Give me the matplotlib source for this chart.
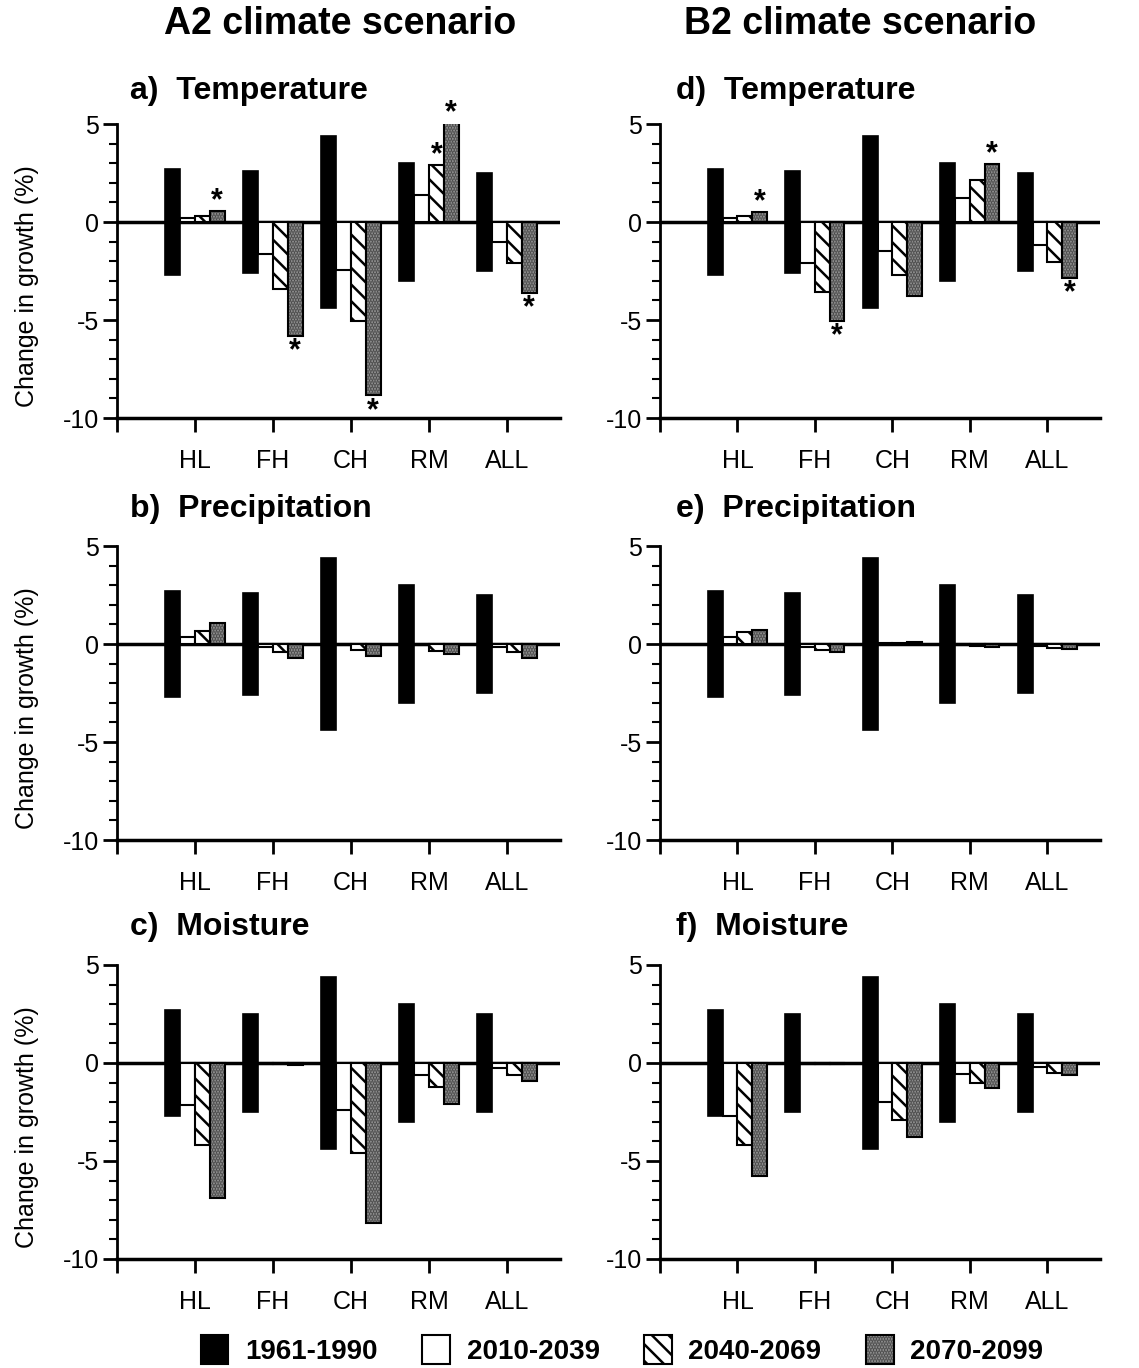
import matplotlib
matplotlib.use("Agg")
import matplotlib.pyplot as plt
from matplotlib.patches import Patch
import numpy as np

plt.rcParams['font.family'] = ['Liberation Sans', 'DejaVu Sans']
plt.rcParams['hatch.linewidth'] = 1.8

categories = ["HL", "FH", "CH", "RM", "ALL"]
series_labels = ["1961-1990", "2010-2039", "2040-2069", "2070-2099"]

# 1961-1990 natural variability (bar spans +/- value)
var_temp_a2 = [2.7, 2.6, 4.4, 3.0, 2.5]
var_prec_a2 = [2.7, 2.6, 4.4, 3.0, 2.5]
var_mois_a2 = [2.7, 2.5, 4.4, 3.0, 2.5]
var_temp_b2 = [2.7, 2.6, 4.4, 3.0, 2.5]
var_prec_b2 = [2.7, 2.6, 4.4, 3.0, 2.5]
var_mois_b2 = [2.7, 2.5, 4.4, 3.0, 2.5]

# a) A2 temperature
a_2010 = [0.2, -1.65, -2.45, 1.4, -1.0]
a_2040 = [0.3, -3.4, -5.05, 2.9, -2.1]
a_2070 = [0.55, -5.8, -8.85, 5.05, -3.6]
# b) A2 precipitation
b_2010 = [0.35, -0.15, -0.05, -0.05, -0.15]
b_2040 = [0.65, -0.4, -0.3, -0.35, -0.4]
b_2070 = [1.05, -0.7, -0.6, -0.5, -0.7]
# c) A2 moisture
c_2010 = [-2.15, -0.03, -2.4, -0.6, -0.25]
c_2040 = [-4.2, -0.05, -4.6, -1.2, -0.6]
c_2070 = [-6.9, -0.12, -8.15, -2.1, -0.9]
# d) B2 temperature
d_2010 = [0.2, -2.1, -1.5, 1.25, -1.15]
d_2040 = [0.3, -3.55, -2.7, 2.15, -2.05]
d_2070 = [0.5, -5.05, -3.8, 2.95, -2.85]
# e) B2 precipitation
e_2010 = [0.35, -0.15, 0.05, -0.05, -0.1]
e_2040 = [0.6, -0.3, 0.07, -0.1, -0.2]
e_2070 = [0.7, -0.4, 0.1, -0.15, -0.25]
# f) B2 moisture
f_2010 = [-2.7, -0.03, -2.0, -0.55, -0.22]
f_2040 = [-4.2, -0.05, -2.9, -1.0, -0.5]
f_2070 = [-5.75, -0.07, -3.75, -1.3, -0.6]

# significance asterisks (series: 2040-2069, 2070-2099)
a_sig_2040 = [0, 0, 0, 1, 0]
a_sig_2070 = [1, 1, 1, 1, 1]
d_sig_2040 = [0, 0, 0, 0, 0]
d_sig_2070 = [1, 1, 0, 1, 1]
none_sig = [0, 0, 0, 0, 0]

panels = [
    ("a)  Temperature", var_temp_a2, a_2010, a_2040, a_2070, a_sig_2040, a_sig_2070),
    ("d)  Temperature", var_temp_b2, d_2010, d_2040, d_2070, d_sig_2040, d_sig_2070),
    ("b)  Precipitation", var_prec_a2, b_2010, b_2040, b_2070, none_sig, none_sig),
    ("e)  Precipitation", var_prec_b2, e_2010, e_2040, e_2070, none_sig, none_sig),
    ("c)  Moisture", var_mois_a2, c_2010, c_2040, c_2070, none_sig, none_sig),
    ("f)  Moisture", var_mois_b2, f_2010, f_2040, f_2070, none_sig, none_sig),
]

W, H = 1139, 1368
fig = plt.figure(figsize=(W / 100, H / 100), dpi=100)

col_left = [117 / W, 660 / W]
col_width = [443 / W, 440 / W]
row_bottom = [1 - 418 / H, 1 - 840 / H, 1 - 1259 / H]
title_gap = [33, 37, 38]
ax_h = 294 / H

gray = "#9c9c9c"
stipple = "#4a4a4a"
w = 0.19
x = np.arange(1, len(categories) + 1)
tick_fs = 18

for i, (title, var, s1, s2, s3, sig2, sig3) in enumerate(panels):
    r, c = divmod(i, 2)
    ax = fig.add_axes([col_left[c], row_bottom[r], col_width[c], ax_h])
    var = np.array(var)
    ax.bar(x - 1.5 * w, 2 * var, bottom=-var, width=w, color="black",
           edgecolor="black", linewidth=1.2, zorder=3)
    ax.bar(x - 0.5 * w, s1, width=w, facecolor="white", edgecolor="black",
           linewidth=1.5, zorder=3)
    ax.bar(x + 0.5 * w, s2, width=w, facecolor="white", edgecolor="black",
           hatch="\\\\", linewidth=1.5, zorder=3)
    # stippled gray bars: textured fill, then black outline
    ax.bar(x + 1.5 * w, s3, width=w, facecolor=gray, edgecolor=stipple,
           hatch="......", linewidth=0, zorder=3)
    ax.bar(x + 1.5 * w, s3, width=w, facecolor="none", edgecolor="black",
           linewidth=1.5, zorder=4)
    for xs, vals, sig in ((x + 0.5 * w, s2, sig2), (x + 1.5 * w, s3, sig3)):
        for xi, v, s in zip(xs, vals, sig):
            if s:
                off = 1.5 if v >= 0 else -17.0
                ax.annotate("*", (xi, v), xytext=(0, off),
                            textcoords="offset points", ha="center",
                            va="baseline", fontsize=22, fontweight="bold",
                            zorder=5, annotation_clip=False)
    ax.axhline(0, color="black", linewidth=2.5, zorder=2)
    ax.set_xlim(0, 5.68)
    ax.set_ylim(-10, 5)
    ax.set_yticks([5, 0, -5, -10])
    ax.set_yticklabels(["5", "0", "-5", "-10"])
    ax.set_yticks(np.arange(-10, 6, 1), minor=True)
    ax.set_xticks(np.arange(0, 6))
    ax.set_xticklabels([""] + categories)
    for sp in ("top", "right"):
        ax.spines[sp].set_visible(False)
    ax.spines["left"].set_linewidth(2)
    ax.spines["bottom"].set_linewidth(2.5)
    ax.tick_params(axis="y", which="major", direction="out", length=10,
                   width=2, labelsize=tick_fs, pad=3)
    ax.tick_params(axis="y", which="minor", direction="out", length=6, width=1.5)
    ax.tick_params(axis="x", which="major", direction="out", length=10,
                   width=2, labelsize=tick_fs, pad=12)
    ax.text(13 / 443 if c == 0 else 16 / 440, 1 + title_gap[r] / 294, title,
            transform=ax.transAxes, fontsize=23, fontweight="bold",
            ha="left", va="center")
    if c == 0:
        ax.set_ylabel("Change in growth (%)", fontsize=18)
        ax.yaxis.set_label_coords(-78 / 443, 0.45)

fig.text(340 / W, 1 - 24 / H, "A2 climate scenario", fontsize=27,
         fontweight="bold", ha="center", va="center")
fig.text(860 / W, 1 - 24 / H, "B2 climate scenario", fontsize=27,
         fontweight="bold", ha="center", va="center")

handles = [
    Patch(facecolor="black", edgecolor="black", linewidth=1.5),
    Patch(facecolor="white", edgecolor="black", linewidth=1.5),
    Patch(facecolor="white", edgecolor="black", hatch="\\\\", linewidth=1.5),
    (Patch(facecolor=gray, edgecolor=stipple, hatch="......", linewidth=0),
     Patch(facecolor="none", edgecolor="black", linewidth=1.5)),
]
leg = fig.legend(handles, series_labels, loc="center", ncol=4,
                 bbox_to_anchor=(622 / W, 1 - 1350 / H), frameon=False,
                 prop={"size": 20, "weight": "bold"}, handlelength=1.0,
                 handleheight=1.2, columnspacing=1.6, handletextpad=0.6)

fig.savefig("out.png", dpi=100)
